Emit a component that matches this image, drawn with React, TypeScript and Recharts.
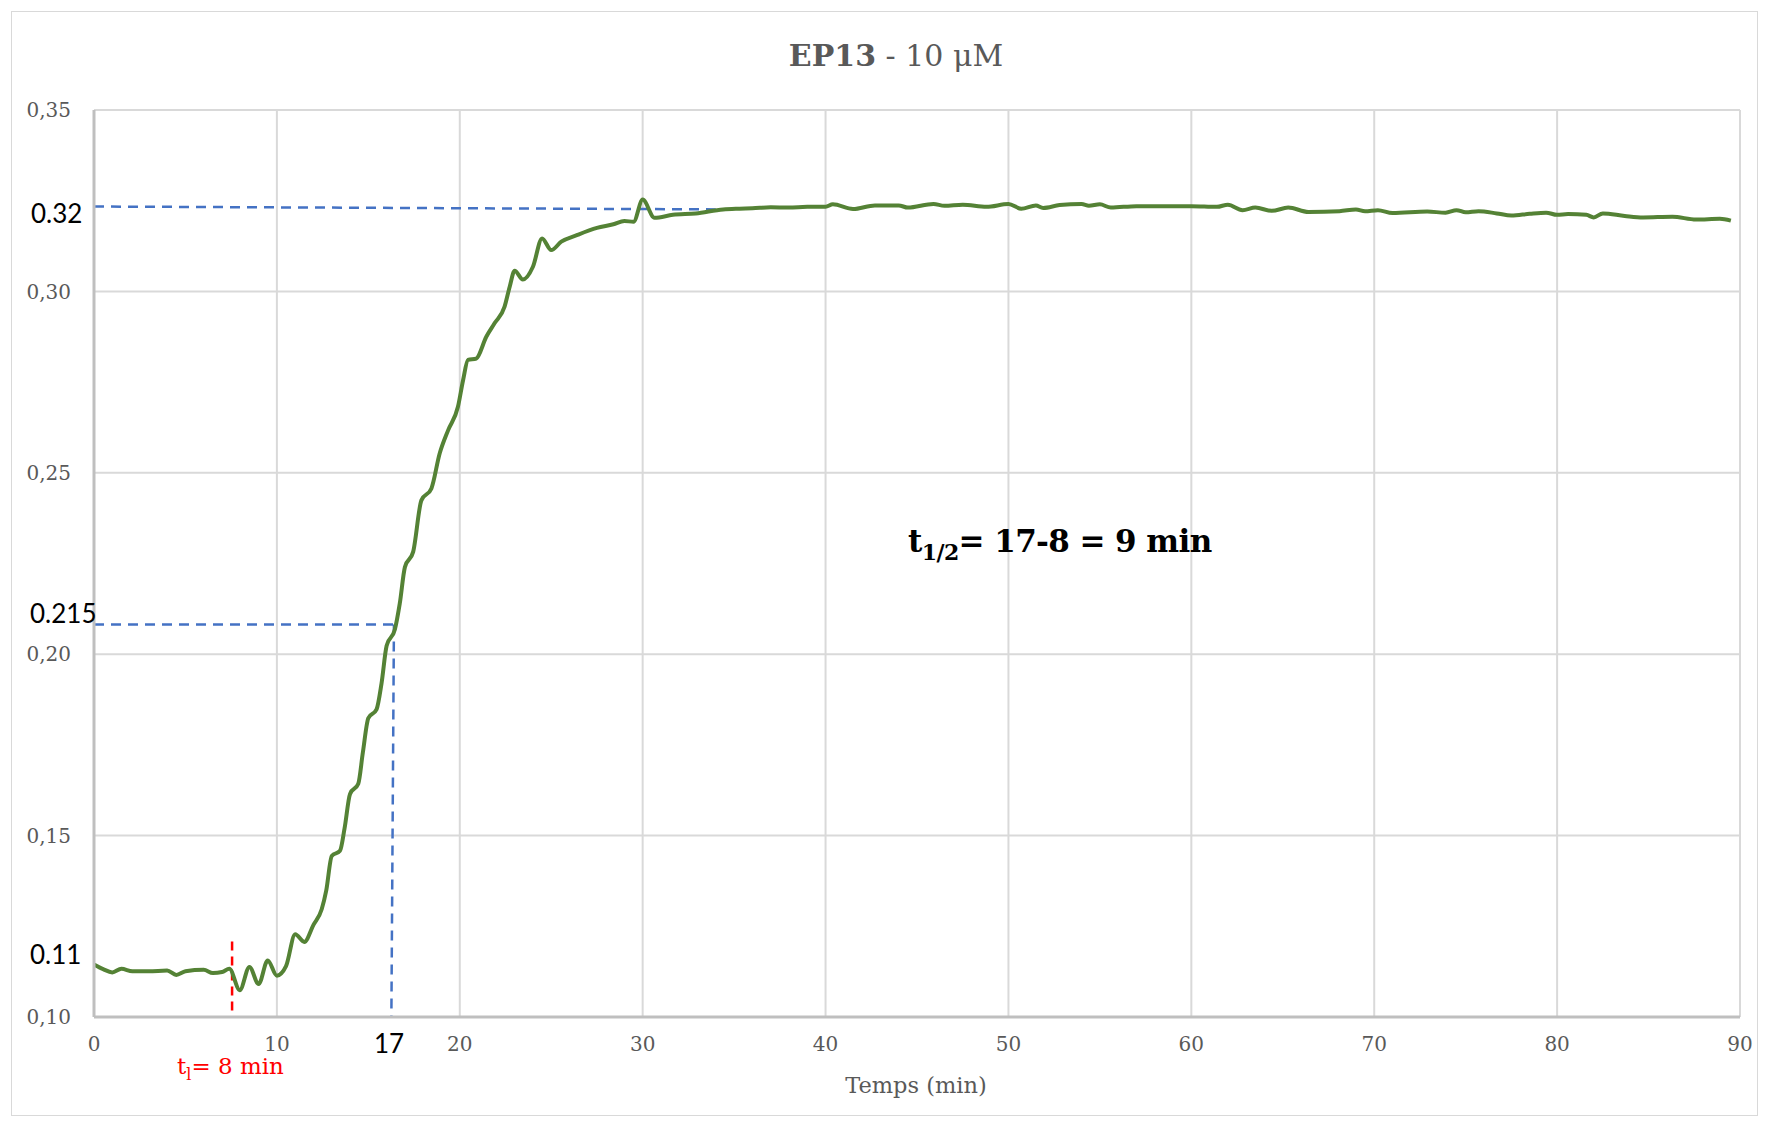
import { LineChart, Line, XAxis, YAxis, CartesianGrid, ReferenceLine } from "recharts";

// time in minutes
const times = [
    0, 0.5, 1.0, 1.5, 2.1, 3.0, 4.0, 4.5, 5.0, 6.0, 6.5, 7.0, 7.4, 7.97, 8.5, 9.0, 9.5, 10.0, 10.5, 11.0,
    11.5, 12.0, 12.45, 12.7, 13.0, 13.45, 13.7, 14.0, 14.45, 14.7, 15.0, 15.45, 15.72, 16.0, 16.45, 16.72,
    17.0, 17.45, 17.9, 18.45, 18.9, 19.36, 19.9, 20.18, 20.45, 20.9, 21.45, 21.9, 22.45, 22.73, 23.0, 23.45,
    24.0, 24.5, 25.0, 25.55, 26.4, 27.5, 28.4, 29.0, 29.5, 30.0, 30.65, 31.65, 32.9, 34.4, 35.3, 36.0, 37.0,
    38.0, 39.0, 40.0, 40.4, 41.5, 42.7, 44.0, 44.5, 45.9, 46.5, 47.5, 48.8, 50.0, 50.7, 51.5, 51.9, 52.8,
    54.0, 54.4, 55.0, 55.6, 57.0, 60.0, 61.4, 62.0, 62.8, 63.5, 64.4, 65.3, 66.4, 68.1, 69.0, 69.5, 70.2,
    71.0, 72.9, 73.9, 74.5, 75.0, 75.7, 76.7, 77.5, 78.5, 79.4, 80.0, 80.6, 81.6, 82.0, 82.5, 83.7, 84.7,
    86.3, 87.6, 88.9, 89.5,
];

// absorbance
const absorbance = [
    0.1145, 0.1132, 0.1123, 0.1133, 0.1126, 0.1126, 0.1128, 0.1116, 0.1126, 0.113, 0.1121, 0.1124, 0.1133,
    0.1074, 0.1138, 0.1091, 0.1156, 0.1114, 0.114, 0.1228, 0.1207, 0.1254, 0.1297, 0.1349, 0.1444, 0.1458,
    0.152, 0.1615, 0.1643, 0.1729, 0.1824, 0.1848, 0.1919, 0.2023, 0.2068, 0.214, 0.224, 0.2282, 0.2424,
    0.2457, 0.2553, 0.2617, 0.2682, 0.2755, 0.2811, 0.2815, 0.2875, 0.2912, 0.2958, 0.3013, 0.3057, 0.3033,
    0.3068, 0.3146, 0.3114, 0.3137, 0.3155, 0.3175, 0.3185, 0.3194, 0.3192, 0.3253, 0.3203, 0.3211, 0.3215,
    0.3226, 0.3228, 0.3229, 0.3232, 0.3231, 0.3233, 0.3233, 0.324, 0.3227, 0.3237, 0.3237, 0.3231, 0.3241,
    0.3236, 0.3239, 0.3233, 0.3241, 0.3228, 0.3237, 0.323, 0.3238, 0.3241, 0.3236, 0.324, 0.3231, 0.3235,
    0.3235, 0.3233, 0.3239, 0.3224, 0.3231, 0.3222, 0.3231, 0.3219, 0.3221, 0.3226, 0.3221, 0.3224, 0.3216,
    0.322, 0.3217, 0.3224, 0.3218, 0.3221, 0.3215, 0.3209, 0.3214, 0.3217, 0.3211, 0.3213, 0.3211, 0.3204,
    0.3215, 0.3208, 0.3204, 0.3206, 0.3198, 0.32, 0.3195,
];

const xTicks = [0, 10, 20, 30, 40, 50, 60, 70, 80, 90];
const yTicks = [0.1, 0.15, 0.2, 0.25, 0.3, 0.35];

// annotation guides (as drawn on the original)
const plateauGuide = [{ x: 0, y: 0.3234 }, { x: 34, y: 0.3226 }];
const halfGuideH = [{ x: 0, y: 0.2082 }, { x: 16.4, y: 0.2082 }];
const halfGuideV = [{ x: 16.4, y: 0.2082 }, { x: 16.26, y: 0.1 }];
const lagGuide = [{ x: 7.55, y: 0.1208 }, { x: 7.55, y: 0.1 }];

const data = times.map((t, i) => ({ t, abs: absorbance[i] }));

const serif = "'DejaVu Serif', serif";
const sans = "Lato, 'Open Sans', sans-serif";
const grey = "#595959";

export default function App() {
    return (
        <div
            style={{
                position: "absolute",
                left: 0,
                top: 0,
                width: 1769,
                height: 1127,
                background: "#fff",
            }}
        >
            <div
                style={{
                    position: "absolute",
                    left: 11,
                    top: 11,
                    width: 1745,
                    height: 1103,
                    border: "1.5px solid #d9d9d9",
                }}
            />
            <LineChart
                width={1769}
                height={1127}
                data={data}
                margin={{ top: 110, right: 29, left: 14, bottom: 70 }}
            >
                <CartesianGrid stroke="#d9d9d9" strokeWidth={2} />
                <XAxis
                    dataKey="t"
                    type="number"
                    domain={[0, 90]}
                    ticks={xTicks}
                    interval={0}
                    height={40}
                    tickLine={false}
                    tickSize={0}
                    tickMargin={20}
                    axisLine={{ stroke: "#bfbfbf", strokeWidth: 3 }}
                    tick={{ fill: grey, fontSize: 20, fontFamily: serif }}
                />
                <YAxis
                    type="number"
                    domain={[0.1, 0.35]}
                    ticks={yTicks}
                    interval={0}
                    width={80}
                    tickLine={false}
                    tickSize={0}
                    tickMargin={23}
                    axisLine={{ stroke: "#bfbfbf", strokeWidth: 3 }}
                    tick={{ fill: grey, fontSize: 20, fontFamily: serif }}
                    tickFormatter={(v: number) => v.toFixed(2).replace(".", ",")}
                />
                <ReferenceLine segment={plateauGuide} stroke="#4472c4" strokeWidth={2.5} strokeDasharray="10 7" />
                <ReferenceLine segment={halfGuideH} stroke="#4472c4" strokeWidth={2.5} strokeDasharray="10 7" />
                <ReferenceLine segment={halfGuideV} stroke="#4472c4" strokeWidth={2.5} strokeDasharray="10 7" />
                <ReferenceLine segment={lagGuide} stroke="#ff0000" strokeWidth={2.5} strokeDasharray="9 6" />
                <Line
                    dataKey="abs"
                    type="monotone"
                    stroke="#548235"
                    strokeWidth={4}
                    dot={false}
                    isAnimationActive={false}
                />
            </LineChart>
            <svg
                width={1769}
                height={1127}
                style={{ position: "absolute", left: 0, top: 0, pointerEvents: "none" }}
            >
                <text x={896} y={66} textAnchor="middle" fill={grey} fontFamily={serif} fontSize={30}>
                    <tspan fontWeight="bold">EP13</tspan>
                    <tspan> - 10 μM</tspan>
                </text>
                <text x={908} y={552} fill="#000" fontFamily={serif} fontWeight="bold" fontSize={31} letterSpacing={-0.6}>
                    t<tspan fontSize={22} dy={8}>1/2</tspan>
                    <tspan dy={-8}>= 17-8 = 9 min</tspan>
                </text>
                <text x={177} y={1074} fill="#ff0000" fontFamily={serif} fontSize={23}>
                    t<tspan fontSize={16} dy={6}>l</tspan>
                    <tspan dy={-6}>= 8 min</tspan>
                </text>
                <text x={916} y={1093} textAnchor="middle" fill={grey} fontFamily={serif} fontSize={22.5}>
                    Temps (min)
                </text>
                <g fill="#000" fontFamily={sans} fontSize={26}>
                    <text x={31} y={223}>0.32</text>
                    <text x={30} y={623}>0.215</text>
                    <text x={30} y={964}>0.11</text>
                    <text x={389} y={1053} textAnchor="middle">17</text>
                </g>
            </svg>
        </div>
    );
}
